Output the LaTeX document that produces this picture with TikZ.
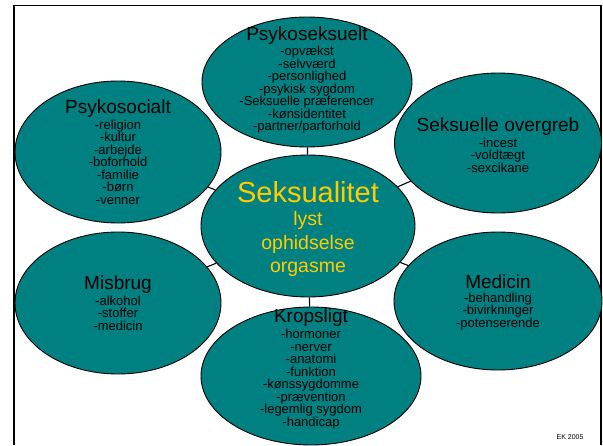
\documentclass[tikz,border=0pt]{standalone}
\usepackage{fontspec}
\setmainfont{Liberation Sans}
\usetikzlibrary{shapes}
\definecolor{teal}{RGB}{0,128,128}
\definecolor{gul}{RGB}{255,204,0}
\tikzstyle{emne} = [ellipse, draw=black, line width=0.9pt, fill=teal, inner sep=0pt]
\tikzstyle{tekst} = [align=center, inner sep=0pt, font=\fontsize{13}{12.5}\selectfont]
\tikzstyle{streg} = [line width=1.1pt]
\newcommand{\titel}[1]{{\fontsize{19}{20}\selectfont #1}\\[1.5pt]}
\begin{document}
\begin{tikzpicture}[x=1pt,y=-1pt]
                    \useasboundingbox (0,0) rectangle (603,445);
                    \draw [line width = 1.8] (14, 445) -- (14, 5.5) -- (600.8, 5.5) -- (600.8, 445);
                    % ellipser
                    \node [emne, minimum width=214, minimum height=142] (sex) at (308, 226) {};
                    \node [emne, minimum width=210, minimum height=130] (psykoseks) at (307, 82) {};
                    \node [emne, minimum width=206, minimum height=142] (psykosoc) at (118, 152) {};
                    \node [emne, minimum width=207, minimum height=140] (overgreb) at (498, 143) {};
                    \node [emne, minimum width=206, minimum height=142] (misbrug) at (118, 303) {};
                    \node [emne, minimum width=208, minimum height=138] (medicin) at (498, 301) {};
                    \node [emne, minimum width=220, minimum height=138] (krop) at (311, 376) {};
                    \foreach \n in {psykoseks, psykosoc, overgreb, misbrug, medicin, krop}
                        \draw [streg] (sex) -- (\n);
                    % tekster
                    \node [tekst, font=\fontsize{19.5}{23.3}\selectfont, text=gul] (sextekst) at ([yshift=-3]sex.center) {{\fontsize{29}{26}\selectfont Seksualitet}\\lyst\\ophidselse\\orgasme};
                    \node [tekst] (psykosekstekst) at ([yshift=2]psykoseks.center) {\titel{Psykoseksuelt}-opvækst\\-selvværd\\-personlighed\\-psykisk sygdom\\-Seksuelle præferencer\\-kønsidentitet\\-partner/parforhold};
                    \node [tekst] (psykosoctekst) at (psykosoc.center) {\titel{Psykosocialt}-religion\\-kultur\\-arbejde\\-boforhold\\-familie\\-børn\\-venner};
                    \node [tekst] (overgrebtekst) at ([yshift=-2]overgreb.center) {\titel{Seksuelle overgreb}-incest\\-voldtægt\\-sexcikane};
                    \node [tekst] (misbrugtekst) at (misbrug.center) {\titel{Misbrug}-alkohol\\-stoffer\\-medicin};
                    \node [tekst] (medicintekst) at ([yshift=-1]medicin.center) {\titel{Medicin}-behandling\\-bivirkninger\\-potenserende};
                    \node [tekst] (kroptekst) at ([yshift=7]krop.center) {\titel{Kropsligt}-hormoner\\-nerver\\-anatomi\\-funktion\\-kønssygdomme\\-prævention\\-legemlig sygdom\\-handicap};
                    \node [font=\fontsize{7}{8}\selectfont, anchor=east] (aar) at (587, 437) {EK 2005};
                \end{tikzpicture}
\end{document}
